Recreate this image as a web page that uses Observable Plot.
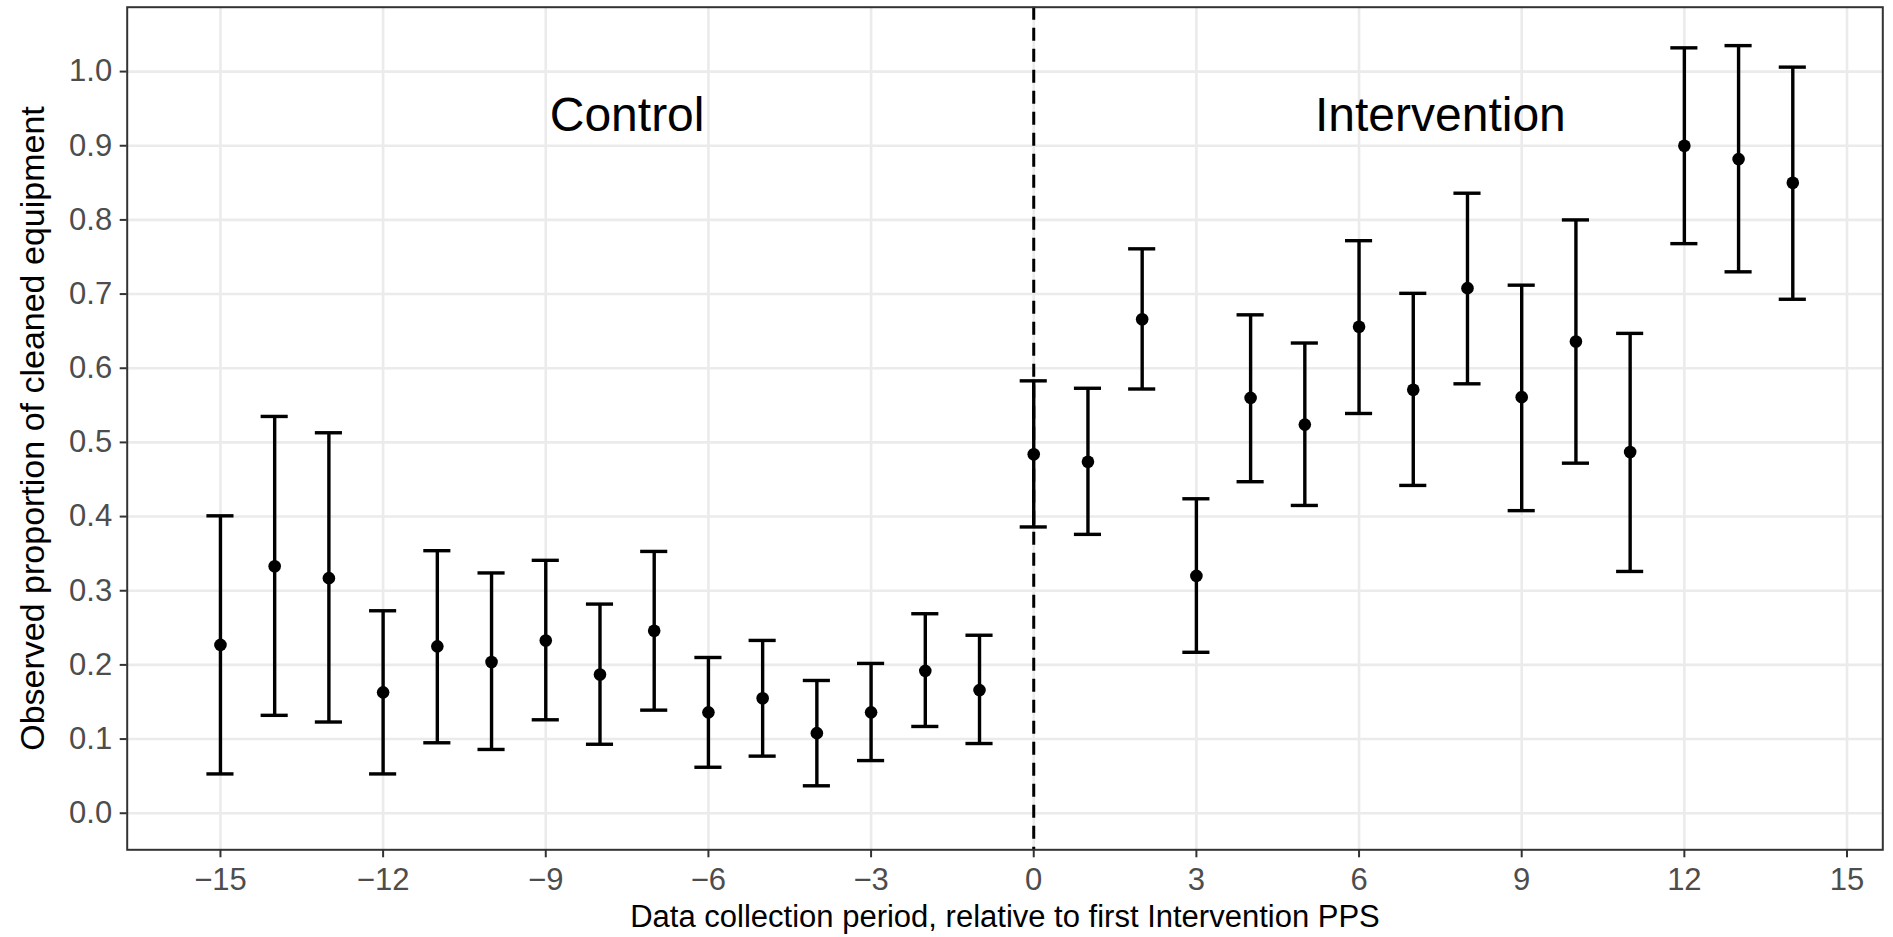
<!DOCTYPE html>
<html>
<head>
<meta charset="utf-8">
<script src="https://cdn.jsdelivr.net/npm/d3@7"></script>
<script src="https://cdn.jsdelivr.net/npm/@observablehq/plot@0.6"></script>
<style>
  html, body { margin: 0; padding: 0; background: #ffffff; }
  #chart svg { display: block; }
</style>
</head>
<body>
<div id="chart"></div>
<script>
// Data collection period relative to first Intervention PPS
const period = [-15,-14,-13,-12,-11,-10,-9,-8,-7,-6,-5,-4,-3,-2,-1,0,1,2,3,4,5,6,7,8,9,10,11,12,13,14];
// Observed proportion of cleaned equipment
const proportion = [0.227,0.333,0.317,0.163,0.225,0.204,0.233,0.187,0.246,0.136,0.155,0.108,0.136,0.192,0.166,
                    0.484,0.474,0.666,0.320,0.560,0.524,0.656,0.571,0.708,0.561,0.636,0.487,0.900,0.882,0.850];
const lower = [0.053,0.132,0.123,0.053,0.095,0.086,0.126,0.093,0.139,0.062,0.077,0.037,0.071,0.117,0.094,
               0.386,0.376,0.572,0.217,0.447,0.415,0.539,0.442,0.579,0.408,0.472,0.326,0.768,0.730,0.693];
const upper = [0.401,0.535,0.513,0.273,0.354,0.324,0.341,0.282,0.353,0.210,0.233,0.179,0.202,0.269,0.240,
               0.583,0.573,0.761,0.424,0.672,0.634,0.772,0.701,0.836,0.712,0.800,0.647,1.032,1.035,1.006];

const phaseLabels = ["Control", "Intervention"];
const phaseX = [-7.5, 7.5];
const phaseY = [0.94, 0.94];

const xTicks = [-15,-12,-9,-6,-3,0,3,6,9,12,15];
const yTicks = [0,0.1,0.2,0.3,0.4,0.5,0.6,0.7,0.8,0.9,1.0];
const startLine = [0];

const xTitle = "Data collection period, relative to first Intervention PPS";
const yTitle = "Observed proportion of cleaned equipment";

const data = period.map((p, i) => ({period: p, prop: proportion[i], lower: lower[i], upper: upper[i]}));
const phases = phaseLabels.map((t, i) => ({label: t, x: phaseX[i], y: phaseY[i]}));

const capHalf = 0.25;
const font = "'Liberation Sans', Arial, Helvetica, sans-serif";
const barWidth = 3.4;

const chart = Plot.plot({
  width: 1893,
  height: 937,
  marginLeft: 126.7,
  marginRight: 10.7,
  marginTop: 6.7,
  marginBottom: 87.7,
  style: {fontFamily: font, background: "#ffffff", overflow: "visible"},
  x: {domain: [-16.72, 15.66], ticks: xTicks},
  y: {domain: [-0.0493, 1.0868], ticks: yTicks},
  marks: [
    Plot.gridX(xTicks, {stroke: "#ebebeb", strokeOpacity: 1, strokeWidth: 2.6}),
    Plot.gridY(yTicks, {stroke: "#ebebeb", strokeOpacity: 1, strokeWidth: 2.6}),
    Plot.ruleX(startLine, {stroke: "#000", strokeWidth: 3, strokeDasharray: "13,8"}),
    Plot.ruleX(data, {x: "period", y1: "lower", y2: "upper", stroke: "#000", strokeWidth: barWidth}),
    Plot.ruleY(data, {y: "upper", x1: d => d.period - capHalf, x2: d => d.period + capHalf, stroke: "#000", strokeWidth: barWidth}),
    Plot.ruleY(data, {y: "lower", x1: d => d.period - capHalf, x2: d => d.period + capHalf, stroke: "#000", strokeWidth: barWidth}),
    Plot.dot(data, {x: "period", y: "prop", r: 6.3, fill: "#000", stroke: "none"}),
    Plot.text(phases, {x: "x", y: "y", text: "label", fontSize: 48, fill: "#000", textAnchor: "middle", lineAnchor: "middle"}),
    Plot.frame({stroke: "#333333", strokeWidth: 2}),
    Plot.axisX(xTicks, {
      tickSize: 8, tickPadding: 10, fontSize: 31,
      stroke: "#333333", strokeWidth: 2, fill: "#4d4d4d",
      label: null, tickFormat: d => d < 0 ? "\u2212" + Math.abs(d) : String(d)
    }),
    Plot.axisY(yTicks, {
      tickSize: 7, tickPadding: 8, fontSize: 31,
      stroke: "#333333", strokeWidth: 2, fill: "#4d4d4d",
      label: null, tickFormat: d3.format(".1f")
    }),
    Plot.text([xTitle], {
      text: d => d, frameAnchor: "bottom", lineAnchor: "bottom", textAnchor: "middle",
      dy: 77.4, fontSize: 31, fill: "#000"
    }),
    Plot.text([yTitle], {
      text: d => d, frameAnchor: "left", lineAnchor: "bottom", textAnchor: "middle",
      rotate: -90, dx: -83.2, fontSize: 34, fill: "#000"
    })
  ]
});

document.getElementById("chart").appendChild(chart);
</script>
</body>
</html>
